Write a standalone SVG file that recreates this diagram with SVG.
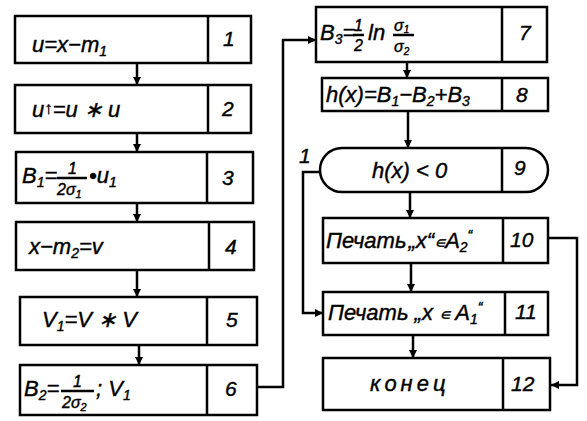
<svg xmlns="http://www.w3.org/2000/svg" width="587" height="421" viewBox="0 0 587 421">
<defs>
<marker id="ah" viewBox="0 0 10 10" refX="10" refY="5" markerWidth="8" markerHeight="8" markerUnits="userSpaceOnUse" orient="auto"><path d="M0,0 L10,5 L0,10 Z" fill="#000"/></marker>
</defs>
<style>
.b{fill:#fff;stroke:#000;stroke-width:2.5}
.d{stroke:#000;stroke-width:2.5}
.c{fill:none;stroke:#000;stroke-width:2.5}
text{font-family:"Liberation Sans",Arial,sans-serif;font-style:italic;fill:#000;stroke:#000;stroke-width:0.4}
.t{font-size:22px}
.n{font-size:21px}
.s{font-size:14px}
.f{font-size:16px}
</style>
<rect width="587" height="421" fill="#fff"/>
<g id="connectors">
<path class="c" d="M137,63 V85" marker-end="url(#ah)"/>
<path class="c" d="M137,133 V152" marker-end="url(#ah)"/>
<path class="c" d="M137,203 V222" marker-end="url(#ah)"/>
<path class="c" d="M137,270 V297" marker-end="url(#ah)"/>
<path class="c" d="M139,345 V365" marker-end="url(#ah)"/>
<path class="c" d="M257,387 H283 V40 H316" marker-end="url(#ah)"/>
<path class="c" d="M407,62 V78" marker-end="url(#ah)"/>
<path class="c" d="M408,111 V148" marker-end="url(#ah)"/>
<path class="c" d="M410,192 V218" marker-end="url(#ah)"/>
<path class="c" d="M411,263 V292" marker-end="url(#ah)"/>
<path class="c" d="M413,335 V358" marker-end="url(#ah)"/>
<path class="c" d="M320,172 H303 V313 H323" marker-end="url(#ah)"/>
<path class="c" d="M548,238 H577 V385 H551" marker-end="url(#ah)"/>
<text class="n" x="299" y="163">1</text>
</g>
<g id="n1">
<rect class="b" x="15" y="16" width="236" height="47"/>
<line class="d" x1="208" y1="16" x2="208" y2="63"/>
<text class="t" x="32" y="52">u=x−m<tspan class="s" dy="4">1</tspan></text>
<text class="n" x="223" y="46">1</text>
</g>
<g id="n2">
<rect class="b" x="15" y="85" width="236" height="48"/>
<line class="d" x1="208" y1="85" x2="208" y2="133"/>
<text class="t" x="32" y="117">u<tspan font-size="17" dy="-3">↑</tspan><tspan dy="3">=u ∗ u</tspan></text>
<text class="n" x="222" y="116">2</text>
</g>
<g id="n3">
<rect class="b" x="16" y="152" width="237" height="51"/>
<line class="d" x1="207" y1="152" x2="207" y2="203"/>
<text class="t" x="22" y="183">B<tspan class="s" dy="4">1</tspan><tspan dy="-4">=</tspan></text>
<line class="d" x1="57" y1="178" x2="87" y2="178" stroke-width="1.5"/>
<text class="f" x="68" y="174">1</text>
<text class="f" x="57" y="195">2σ<tspan font-size="11" dy="3">1</tspan></text>
<text class="t" x="89" y="183">•u<tspan class="s" dy="4">1</tspan></text>
<text class="n" x="222" y="185">3</text>
</g>
<g id="n4">
<rect class="b" x="16" y="222" width="238" height="48"/>
<line class="d" x1="209" y1="222" x2="209" y2="270"/>
<text class="t" x="29" y="254">x−m<tspan class="s" dy="4">2</tspan><tspan dy="-4">=v</tspan></text>
<text class="n" x="225" y="254">4</text>
</g>
<g id="n5">
<rect class="b" x="20" y="297" width="237" height="48"/>
<line class="d" x1="207" y1="297" x2="207" y2="345"/>
<text class="t" x="42" y="327">V<tspan class="s" dy="4">1</tspan><tspan dy="-4">=V ∗ V</tspan></text>
<text class="n" x="226" y="327">5</text>
</g>
<g id="n6">
<rect class="b" x="20" y="365" width="237" height="50"/>
<line class="d" x1="207" y1="365" x2="207" y2="415"/>
<text class="t" x="24" y="396">B<tspan class="s" dy="4">2</tspan><tspan dy="-4">=</tspan></text>
<line class="d" x1="61" y1="391" x2="94" y2="391" stroke-width="1.5"/>
<text class="f" x="73" y="387">1</text>
<text class="f" x="62" y="408">2σ<tspan font-size="11" dy="3">2</tspan></text>
<text class="t" x="96" y="396">; V<tspan class="s" dy="4">1</tspan></text>
<text class="n" x="225" y="396">6</text>
</g>
<g id="n7">
<rect class="b" x="316" y="7" width="231" height="55"/>
<line class="d" x1="502" y1="7" x2="502" y2="62"/>
<text class="t" x="320" y="40">B<tspan class="s" dy="4">3</tspan><tspan dy="-4">=</tspan></text>
<line class="d" x1="353" y1="35" x2="364" y2="35" stroke-width="1.5"/>
<text class="f" x="354" y="31">1</text>
<text class="f" x="354" y="51">2</text>
<text class="t" x="368" y="40">ln</text>
<line class="d" x1="393" y1="35" x2="414" y2="35" stroke-width="1.5"/>
<text class="f" x="394" y="31">σ<tspan font-size="10" dy="2">1</tspan></text>
<text class="f" x="394" y="52">σ<tspan font-size="10" dy="3">2</tspan></text>
<text class="n" x="519" y="40">7</text>
</g>
<g id="n8">
<rect class="b" x="322" y="78" width="226" height="33"/>
<line class="d" x1="502" y1="78" x2="502" y2="111"/>
<text class="t" x="326" y="102">h(x)=B<tspan class="s" dy="4">1</tspan><tspan dy="-4">−B</tspan><tspan class="s" dy="4">2</tspan><tspan dy="-4">+B</tspan><tspan class="s" dy="4">3</tspan></text>
<text class="n" x="516" y="102">8</text>
</g>
<g id="n9">
<path class="b" d="M342,148 H526 A22,22 0 0 1 526,192 H342 A22,22 0 0 1 342,148 Z"/>
<line class="d" x1="502" y1="148" x2="502" y2="192"/>
<text class="t" x="372" y="178">h(x) &lt; 0</text>
<text class="n" x="514" y="175">9</text>
</g>
<g id="n10">
<rect class="b" x="323" y="218" width="225" height="45"/>
<line class="d" x1="503" y1="218" x2="503" y2="263"/>
<text class="t" x="326" y="248">Печать<tspan dx="2">„x“</tspan><tspan font-size="16">∊</tspan>A<tspan class="s" dy="4">2</tspan><tspan class="s" dx="0" dy="-12">“</tspan></text>
<text class="n" x="510" y="247">10</text>
</g>
<g id="n11">
<rect class="b" x="323" y="292" width="225" height="43"/>
<line class="d" x1="505" y1="292" x2="505" y2="335"/>
<text class="t" x="328" y="320">Печать „x <tspan font-size="16">∊</tspan> A<tspan class="s" dy="4">1</tspan><tspan class="s" dx="0" dy="-12">“</tspan></text>
<text class="n" x="515" y="319">11</text>
</g>
<g id="n12">
<rect class="b" x="323" y="358" width="227" height="52"/>
<line class="d" x1="503" y1="358" x2="503" y2="410"/>
<text class="t" x="370" y="391" letter-spacing="4">конец</text>
<text class="n" x="511" y="391">12</text>
</g>
</svg>
